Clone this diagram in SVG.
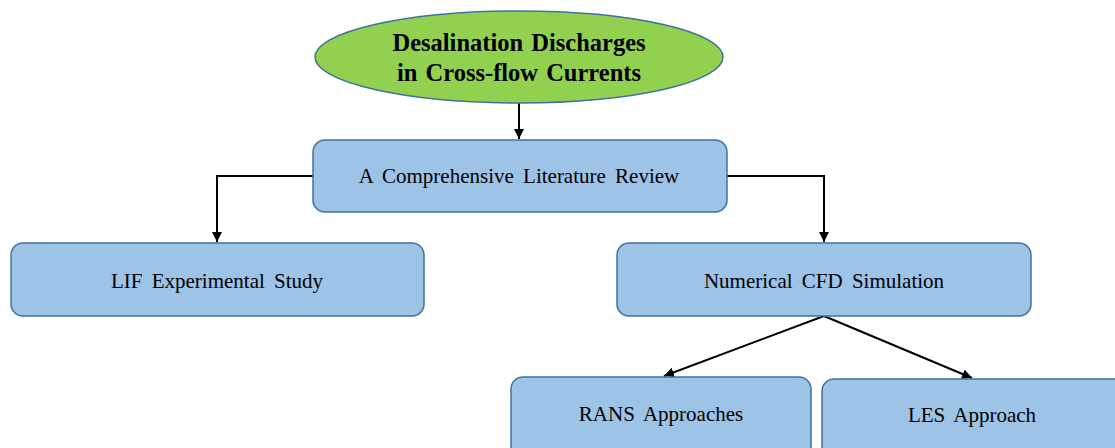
<svg xmlns="http://www.w3.org/2000/svg" width="1115" height="448" viewBox="0 0 1115 448">
<defs>
<marker id="ah" viewBox="0 0 10 10" refX="10" refY="5" markerWidth="5" markerHeight="5" markerUnits="strokeWidth" orient="auto">
<path d="M0,0 L10,5 L0,10 z" fill="#000"/>
</marker>
<style>
.box{fill:#9DC3E6;stroke:#41719C;stroke-width:1.5}
.ell{fill:#92D050;stroke:#41719C;stroke-width:1.5}
.t{font-family:"Liberation Serif","Times New Roman",serif;font-size:21px;fill:#000;text-anchor:middle;word-spacing:4px}
.h{font-family:"Liberation Serif","Times New Roman",serif;font-size:24.5px;font-weight:bold;fill:#000;text-anchor:middle;word-spacing:2px}
.c{fill:none;stroke:#000;stroke-width:2;marker-end:url(#ah)}
</style>
</defs>
<rect width="1115" height="448" fill="#fff"/>
<g id="connectors">
<path class="c" d="M519,103 L519,139"/>
<path class="c" d="M313,176 L217,176 L217,242"/>
<path class="c" d="M727,176 L824,176 L824,242"/>
<path class="c" d="M824,316 L664,376"/>
<path class="c" d="M824,316 L972,378"/>
</g>
<g id="root">
<ellipse class="ell" cx="519" cy="57" rx="204" ry="46"/>
<text class="h" x="519" y="51">Desalination Discharges</text>
<text class="h" x="519" y="81">in Cross-flow Currents</text>
</g>
<g id="review">
<rect class="box" x="313" y="140" width="414" height="72" rx="12"/>
<text class="t" x="519" y="183">A Comprehensive Literature Review</text>
</g>
<g id="lif">
<rect class="box" x="11" y="243" width="413" height="73" rx="12"/>
<text class="t" x="217" y="288">LIF Experimental Study</text>
</g>
<g id="cfd">
<rect class="box" x="617" y="243" width="414" height="73" rx="12"/>
<text class="t" x="824" y="288">Numerical CFD Simulation</text>
</g>
<g id="rans">
<rect class="box" x="511" y="377" width="300" height="85" rx="12"/>
<text class="t" x="661" y="421">RANS Approaches</text>
</g>
<g id="les">
<rect class="box" x="822" y="379" width="310" height="85" rx="12"/>
<text class="t" x="972" y="422">LES Approach</text>
</g>
</svg>
